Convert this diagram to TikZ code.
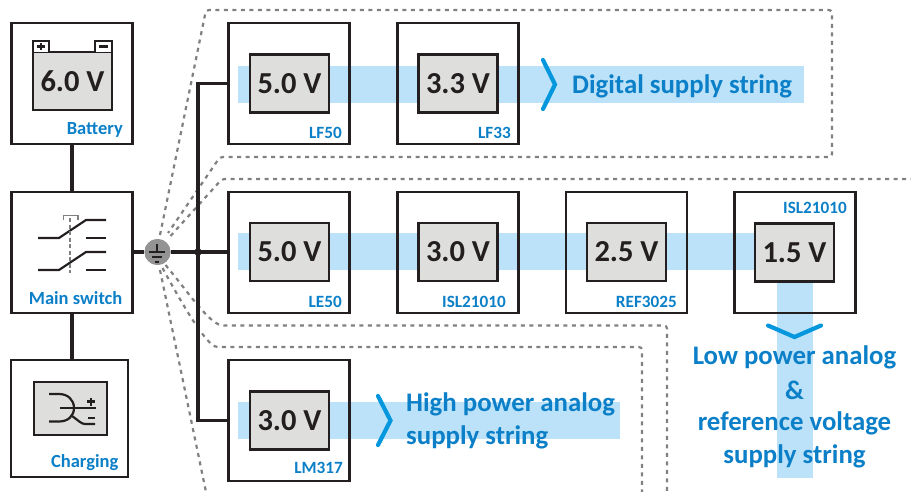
\documentclass[tikz,border=0pt]{standalone}
\usepackage{fontspec}
\setmainfont{Carlito}
\usetikzlibrary{calc}
\definecolor{bandc}{HTML}{BBE2F8}
\definecolor{txtb}{HTML}{0B7FC7}
\definecolor{chev}{HTML}{0497DE}
\definecolor{ink}{HTML}{231F20}
\definecolor{gfill}{HTML}{DEDEDD}
\definecolor{dgray}{HTML}{808080}
\tikzset{
  unitbox/.style={draw=ink,line width=2.2pt,inner sep=0pt,outer sep=0pt,minimum width=121pt,minimum height=121pt},
  volt/.style={draw=ink,line width=2.2pt,fill=gfill,inner sep=0pt,outer sep=0pt,minimum width=79pt,minimum height=58pt,font=\bfseries\fontsize{30.5}{30.5}\selectfont,text=ink},
  partlab/.style={font=\bfseries\fontsize{17.2}{17.2}\selectfont,text=txtb,anchor=east,inner sep=0pt},
  boxcap/.style={font=\bfseries\fontsize{18.5}{18.5}\selectfont,text=txtb,anchor=east,inner sep=0pt},
  biglab/.style={font=\bfseries\fontsize{26.8}{26.8}\selectfont,text=txtb,inner sep=0pt},
  wire/.style={draw=ink,line width=3.3pt},
  fence/.style={draw=dgray,line width=2.2pt,dash pattern=on 4pt off 4.5pt,rounded corners=3pt},
  chevron/.style={draw=chev,line width=4.2pt,line cap=round,line join=miter},
  icon/.style={draw=ink,line width=2.2pt},
}
\begin{document}
\begin{tikzpicture}[x=1pt,y=-1pt]
\useasboundingbox (0,0) rectangle (911,492);
% bands
\fill[bandc] (238,66) rectangle (804,103);
\fill[bandc] (238,233) rectangle (777,270);
\fill[bandc] (777,270) rectangle (813,478);
\fill[bandc] (238,402) rectangle (620,439);
% fences
\coordinate (g) at (157.5,252);
\path[fence] (g) ++(2.5,-17) -- (206,10) -- (832,10) -- (832,157) -- (220,157) -- (168,233);
\path[fence] (g) ++(13,-16) -- (222,179) -- (911,179);
\path[fence] (g) ++(8,13) .. controls (185,288) and (205,318) .. (221,325.5) -- (667,325.5) -- (667,492);
\path[fence] (g) ++(5,16) .. controls (180,300) and (200,335) .. (215,347) -- (642,347) -- (642,492);
\path[fence] (g) ++(2.5,18) -- (206,492);
% boxes
\node[unitbox] (bat) at (72,83.5) {};
\node[unitbox] (sw) at (72,252.5) {};
\node[unitbox,minimum width=117pt,minimum height=117pt] (chg) at (69.5,418.5) {};
\node[unitbox] (lf50) at (289,83.5) {};
\node[unitbox] (lf33) at (458,83.5) {};
\node[unitbox] (le50) at (289,252.5) {};
\node[unitbox] (isla) at (458,252.5) {};
\node[unitbox] (ref) at (626.5,252.5) {};
\node[unitbox] (islb) at (795,252.5) {};
\node[unitbox] (lm) at (289,420.5) {};
% voltage boxes
\node[volt] (v1) at (289.5,83.5) {5.0 V};
\node[volt] (v2) at (458,83.5) {3.3 V};
\node[volt] (v3) at (289.5,252) {5.0 V};
\node[volt] (v4) at (458,252) {3.0 V};
\node[volt] (v5) at (626.5,252) {2.5 V};
\node[volt] (v6) at (794.5,252.5) {1.5 V};
\node[volt] (v7) at (289.5,420.5) {3.0 V};
\node[volt] (v0) at (72.5,81) {6.0 V};
% battery terminals
\draw[icon,fill=white] (33,52) -- (33,41) -- (49,41) -- (49,52);
\draw[icon,fill=white] (95,52) -- (95,41) -- (112,41) -- (112,52);
\draw[icon] (37,46.5) -- (45,46.5) (41,43) -- (41,50);
\draw[icon] (99,46.5) -- (108,46.5);
% wires
\node[circle,fill=dgray!85!white,inner sep=0pt,minimum size=26pt] (gnd) at (g) {};
\coordinate (jn) at (198,252);
\draw[wire] (bat.south) -- (sw.north);
\draw[wire] (sw.south) -- (sw.south |- chg.north);
\draw[wire] (sw.east |- gnd) -- (gnd);
\draw[wire] (gnd) -- (jn);
\draw[wire] (jn) -- (le50.west |- jn);
\draw[wire] (jn) |- (lf50.west);
\draw[wire] (jn) |- (lm.west);
\node[circle,fill=ink,inner sep=0pt,minimum size=7.5pt] (jdot) at (jn) {};
\node[circle,fill=dgray!85!white,inner sep=0pt,minimum size=26pt] (gndtop) at (g) {};
\draw[ink,line width=1.2pt] (157,244) -- (157,252) (149,252) -- (165,252) (152,257) -- (162,257) (155,262) -- (159,262);
% switch icon
\draw[icon] (38,238) -- (59,238) -- (86,220) -- (106,220);
\draw[icon] (86,238) -- (106,238);
\draw[icon] (38,270) -- (59,270) -- (86,252) -- (106,252);
\draw[icon] (86,270) -- (106,270);
\draw[dgray,line width=1.8pt,dash pattern=on 4pt off 2.5pt] (70,218) -- (70,273);
\draw[dgray,line width=1.8pt] (63.5,220.5) -- (63.5,215.5) -- (78,215.5) -- (78,220.5);
% charging icon
\node[draw=ink,line width=2.2pt,fill=gfill,inner sep=0pt,outer sep=0pt,minimum width=73pt,minimum height=53pt] (ci) at (70.5,408.5) {};
\draw[icon] (49,394) -- (59,394) .. controls (68,394) and (74,400) .. (74,408) .. controls (74,416) and (68,421.5) .. (59,421.5) -- (49,421.5);
\draw[icon] (60,408) -- (96,408);
\draw[icon] (72,416) .. controls (78,420) and (81,424) .. (85,424) -- (95,424);
\draw[icon] (87,401.5) -- (95,401.5) (91,397.5) -- (91,405.5);
\draw[icon] (88,418) -- (95,418);
% captions
\node[boxcap] (tb) at (123,129.5) {Battery};
\node[boxcap] (ts) at (122.5,298) {Main switch};
\node[boxcap] (tc) at (118.5,463) {Charging};
\node[partlab] (p1) at (342,133) {LF50};
\node[partlab] (p2) at (511,133) {LF33};
\node[partlab] (p3) at (342,302) {LE50};
\node[partlab] (p4) at (506,302) {ISL21010};
\node[partlab] (p5) at (677,302) {REF3025};
\node[partlab] (p6) at (847,208) {ISL21010};
\node[partlab] (p7) at (343,468) {LM317};
% chevrons
\draw[chevron] (543,60) -- (555,84.5) -- (543,109);
\draw[chevron] (378,396) -- (390.5,420.5) -- (378,445);
\draw[chevron] (768,325.5) -- (794.5,337) -- (821,325.5);
% string labels
\node[biglab,anchor=west] (d) at (572,86.5) {Digital supply string};
\node[biglab,anchor=west] (h1) at (406,404.5) {High power analog};
\node[biglab,anchor=west] (h2) at (406,437.5) {supply string};
\node[biglab] (l1) at (794.5,357.5) {Low power analog};
\node[biglab] (l2) at (794.5,390.5) {\&};
\node[biglab] (l3) at (794.5,423.5) {reference voltage};
\node[biglab] (l4) at (794.5,456.5) {supply string};
\end{tikzpicture}
\end{document}
